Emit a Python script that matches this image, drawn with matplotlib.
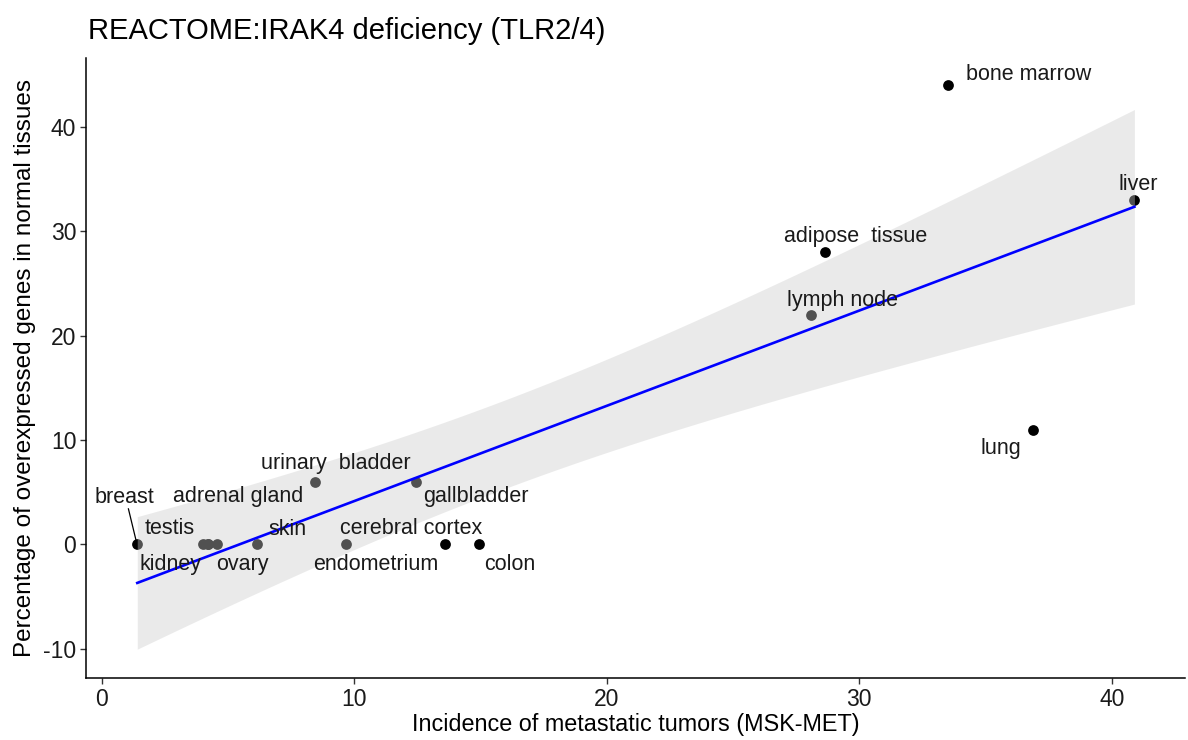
#!/usr/bin/env python3
"""
Scatter of metastatic incidence vs. overexpressed genes (REACTOME:IRAK4 deficiency),
with a linear fit and its 95% confidence band, saved to out.png.
"""

import numpy as np
import matplotlib
matplotlib.use("Agg")
import matplotlib.pyplot as plt

plt.rcParams["font.family"] = ["Liberation Sans", "DejaVu Sans"]
plt.rcParams["axes.unicode_minus"] = False

tissues = ["breast", "testis", "kidney", "adrenal gland", "ovary", "skin",
           "urinary  bladder", "endometrium", "gallbladder", "cerebral cortex",
           "colon", "lymph node", "adipose  tissue", "bone marrow", "lung", "liver"]
incidence = [1.4, 4.0, 4.2, 4.2, 4.55, 6.15, 8.45, 9.65, 12.45, 13.6,
             14.95, 28.1, 28.65, 33.5, 36.9, 40.9]
overexpressed = [0, 0, 0, 0, 0, 0, 6, 0, 6, 0, 0, 22, 28, 44, 11, 33]

# label offsets (data units) as ggrepel placed them
label_offsets = {
    "breast": (-0.5, 4.5), "testis": (-1.3, 1.5), "kidney": (-1.5, -1.9),
    "adrenal gland": (1.2, 4.6), "ovary": (1.0, -1.9), "skin": (1.2, 1.4),
    "urinary  bladder": (0.8, 1.75), "endometrium": (1.2, -1.9),
    "gallbladder": (2.35, -1.4), "cerebral cortex": (-1.35, 1.5),
    "colon": (1.2, -1.9), "lymph node": (1.25, 1.4), "adipose  tissue": (1.2, 1.5),
    "bone marrow": (3.2, 1.0), "lung": (-1.3, -1.8), "liver": (0.15, 1.5),
}

T975_DF14 = 2.1448  # t quantile for 95% CI, n-2 = 14


def fit_band(x, y, xs):
    x = np.asarray(x, float)
    y = np.asarray(y, float)
    slope, inter = np.polyfit(x, y, 1)
    n = len(x)
    resid = y - (slope * x + inter)
    s = np.sqrt(np.sum(resid ** 2) / (n - 2))
    sxx = np.sum((x - x.mean()) ** 2)
    yhat = slope * xs + inter
    se = s * np.sqrt(1.0 / n + (xs - x.mean()) ** 2 / sxx)
    return yhat, yhat - T975_DF14 * se, yhat + T975_DF14 * se


def main():
    fig = plt.figure(figsize=(11.88, 7.4), dpi=100)
    ax = fig.add_axes([0.0724, 0.0838, 0.925, 0.838])

    ax.scatter(incidence, overexpressed, s=60, color="black", zorder=2, linewidths=0)

    xs = np.linspace(min(incidence), max(incidence), 200)
    yhat, lo, hi = fit_band(incidence, overexpressed, xs)
    ax.fill_between(xs, lo, hi, color="#cccccc", alpha=0.4, linewidth=0, zorder=3)
    ax.plot(xs, yhat, color="blue", linewidth=1.9, zorder=4)

    for name, x, y in zip(tissues, incidence, overexpressed):
        dx, dy = label_offsets[name]
        ax.text(x + dx, y + dy, name, ha="center", va="center", fontsize=15.5,
                color="#1a1a1a", zorder=5)
        if name == "breast":
            ax.plot([x - 0.35, x - 0.05], [y + 3.4, y + 0.4], color="black",
                    linewidth=0.9, zorder=5)

    ax.set_xlim(-0.63, 42.9)
    ax.set_ylim(-12.8, 46.6)
    ax.set_xticks([0, 10, 20, 30, 40])
    ax.set_yticks([-10, 0, 10, 20, 30, 40])
    ax.tick_params(labelsize=16.5, length=4, width=1, color="#333333",
                   labelcolor="#1a1a1a", pad=3)
    for side in ("top", "right"):
        ax.spines[side].set_visible(False)
    for side in ("left", "bottom"):
        ax.spines[side].set_linewidth(1.1)

    ax.set_xlabel("Incidence of metastatic tumors (MSK-MET)", fontsize=16.8, labelpad=2)
    ax.set_ylabel("Percentage of overexpressed genes in normal tissues", fontsize=17.5,
                  labelpad=5)
    fig.text(0.074, 0.958, "REACTOME:IRAK4 deficiency (TLR2/4)", fontsize=21,
             ha="left", va="center")

    fig.savefig("out.png", dpi=100, facecolor="white")
    plt.close(fig)


if __name__ == "__main__":
    main()
